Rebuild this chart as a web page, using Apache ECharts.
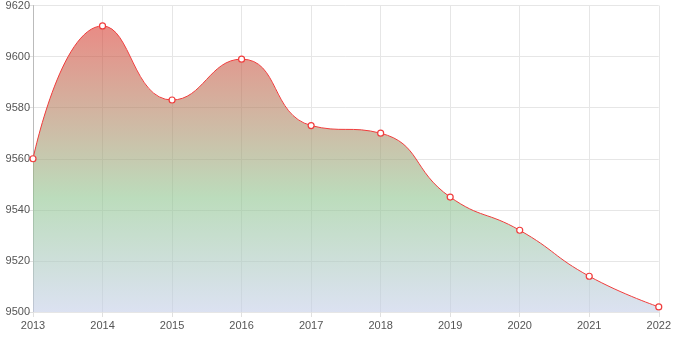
<!DOCTYPE html>
<html>
<head>
    <meta charset="UTF-8">
    <title>Echarts-面积图</title>
    <script src="https://cdn.jsdelivr.net/npm/echarts@6/dist/echarts.min.js"></script>
    <style>
        body, html {
            margin: 0;
            padding: 0;
            background: #fff;
        }

        #area {
            width: 674px;
            height: 337px;
        }
    </style>
</head>
<body>
<div id="area"></div>
<script>
    var years = ['2013', '2014', '2015', '2016', '2017', '2018', '2019', '2020', '2021', '2022'];
    var values = [9560, 9612, 9583, 9599, 9573, 9570, 9545, 9532, 9514, 9502];

    var echart = echarts.init(document.getElementById('area'));
    var option = {
        animation: false,
        grid: {left: 33, right: 14, top: 5, bottom: 25},
        xAxis: {
            type: 'category',
            boundaryGap: false,
            data: years,
            axisLine: {lineStyle: {color: '#e6e6e6'}},
            axisTick: {show: true, length: 5, lineStyle: {color: '#e0e0e0'}},
            axisLabel: {color: '#555', fontSize: 11, fontFamily: 'Arial', margin: 8},
            splitLine: {show: true, lineStyle: {color: '#e6e6e6'}}
        },
        yAxis: {
            type: 'value',
            min: 9500,
            max: 9620,
            interval: 20,
            axisLine: {show: true, lineStyle: {color: '#bbb'}},
            axisTick: {show: true, length: 5, lineStyle: {color: '#e0e0e0'}},
            axisLabel: {color: '#555', fontSize: 11, fontFamily: 'Arial', margin: 3,
                formatter: function (v) { return String(v); }},
            splitLine: {lineStyle: {color: '#e6e6e6'}}
        },
        series: [{
            type: 'line',
            data: values,
            smooth: true,
            symbol: 'circle',
            symbolSize: 6,
            itemStyle: {color: '#fff', borderColor: '#f03c3c', borderWidth: 1.2},
            lineStyle: {color: '#f03c3c', width: 1},
            areaStyle: {
                opacity: 1,
                color: new echarts.graphic.LinearGradient(0, 0, 0, 1, [
                    {offset: 0, color: 'rgba(217,63,52,0.6)'},
                    {offset: 0.6, color: 'rgba(143,197,143,0.6)'},
                    {offset: 1, color: 'rgba(196,206,232,0.6)'}
                ])
            }
        }]
    };
    echart.setOption(option);
</script>
</body>
</html>
